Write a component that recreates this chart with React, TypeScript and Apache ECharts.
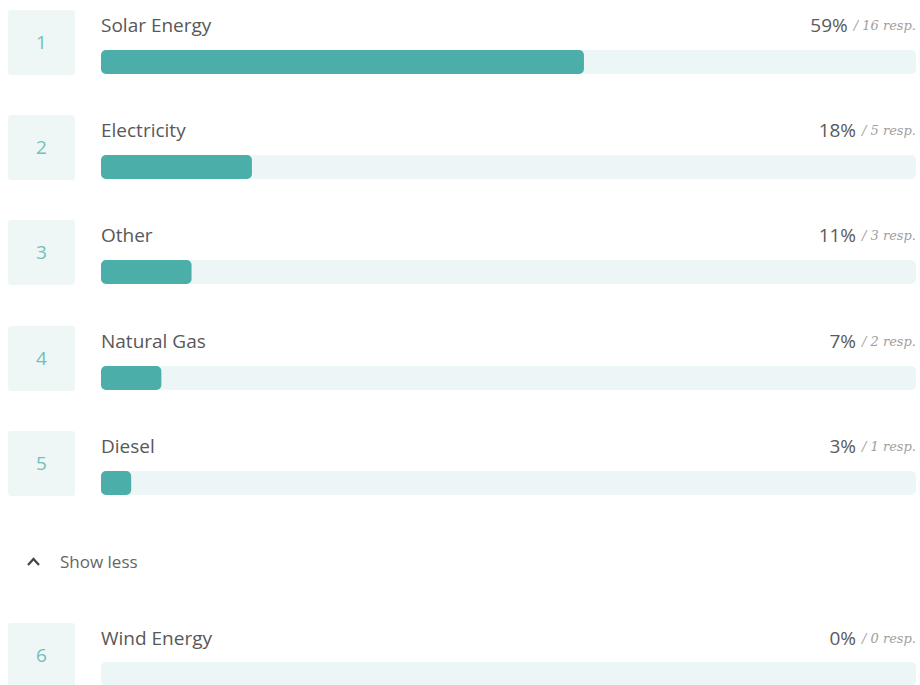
import React, { useEffect, useRef } from "react";
import * as echarts from "echarts";

const categories = ["Solar Energy", "Electricity", "Other", "Natural Gas", "Diesel", "Wind Energy"];
const percentLabels = [59, 18, 11, 7, 3, 0];
const responses = [16, 5, 3, 2, 1, 0];
const ranks = [1, 2, 3, 4, 5, 6];
const toggleLabel = "Show less";

const BOX_TOPS = [10, 115, 220, 326, 431, 623];
const FONT = "'Open Sans', 'Noto Sans', sans-serif";

export default function App() {
  const ref = useRef<HTMLDivElement>(null);
  useEffect(() => {
    if (!ref.current) return;
    const chart = echarts.init(ref.current, undefined, { renderer: "svg" });
    const total = responses.reduce((a, b) => a + b, 0);

    const grids: any[] = [];
    const xAxes: any[] = [];
    const yAxes: any[] = [];
    const series: any[] = [];
    const graphics: any[] = [];

    categories.forEach((name, i) => {
      const top = BOX_TOPS[i];
      grids.push({ left: 101, right: 4, top: top + 40, height: 24, containLabel: false });
      xAxes.push({ type: "value", min: 0, max: 100, show: false, gridIndex: i });
      yAxes.push({ type: "category", data: [name], show: false, gridIndex: i });
      series.push({
        type: "bar",
        name,
        xAxisIndex: i,
        yAxisIndex: i,
        data: [(responses[i] / total) * 100],
        barWidth: 24,
        showBackground: true,
        backgroundStyle: { color: "#EDF6F6", borderRadius: 5 },
        itemStyle: { color: "#4BAEA8", borderRadius: 5 },
        silent: true,
      });
      graphics.push({
        type: "rect",
        shape: { x: 8, y: top, width: 67, height: 65, r: 3 },
        style: { fill: "#EFF6F6" },
      });
      graphics.push({
        type: "text",
        x: 41.5,
        y: top + 32,
        style: {
          text: String(ranks[i]),
          fill: "#72C0BA",
          font: `19px ${FONT}`,
          align: "center",
          verticalAlign: "middle",
        },
      });
      graphics.push({
        type: "text",
        x: 101,
        y: top + 15,
        style: {
          text: name,
          fill: "#585858",
          font: `19px ${FONT}`,
          align: "left",
          verticalAlign: "middle",
        },
      });
      graphics.push({
        type: "text",
        x: 916,
        y: top + 15,
        style: {
          text: `{p|${percentLabels[i]}%}{r|/ ${responses[i]} resp.}`,
          align: "right",
          verticalAlign: "middle",
          rich: {
            p: { fontSize: 19, fontFamily: FONT, fill: "#5A5A5A", padding: [0, 6, 0, 0] },
            r: { fontSize: 13, fontFamily: "'DejaVu Serif', serif", fill: "#A0A0A0", fontStyle: "italic" },
          },
        },
      });
    });

    graphics.push({
      type: "polyline",
      shape: { points: [[28, 565], [33.5, 559], [39, 565]] },
      style: { stroke: "#444444", lineWidth: 2.2, fill: "none" },
    });
    graphics.push({
      type: "text",
      x: 60,
      y: 561,
      style: {
        text: toggleLabel,
        fill: "#666666",
        font: `17px ${FONT}`,
        align: "left",
        verticalAlign: "middle",
      },
    });

    chart.setOption({
      animation: false,
      backgroundColor: "#ffffff",
      grid: grids,
      xAxis: xAxes,
      yAxis: yAxes,
      series,
      graphic: graphics,
    });
    return () => chart.dispose();
  }, []);
  return <div ref={ref} style={{ position: "fixed", left: 0, top: 0, width: 920, height: 685 }} />;
}
